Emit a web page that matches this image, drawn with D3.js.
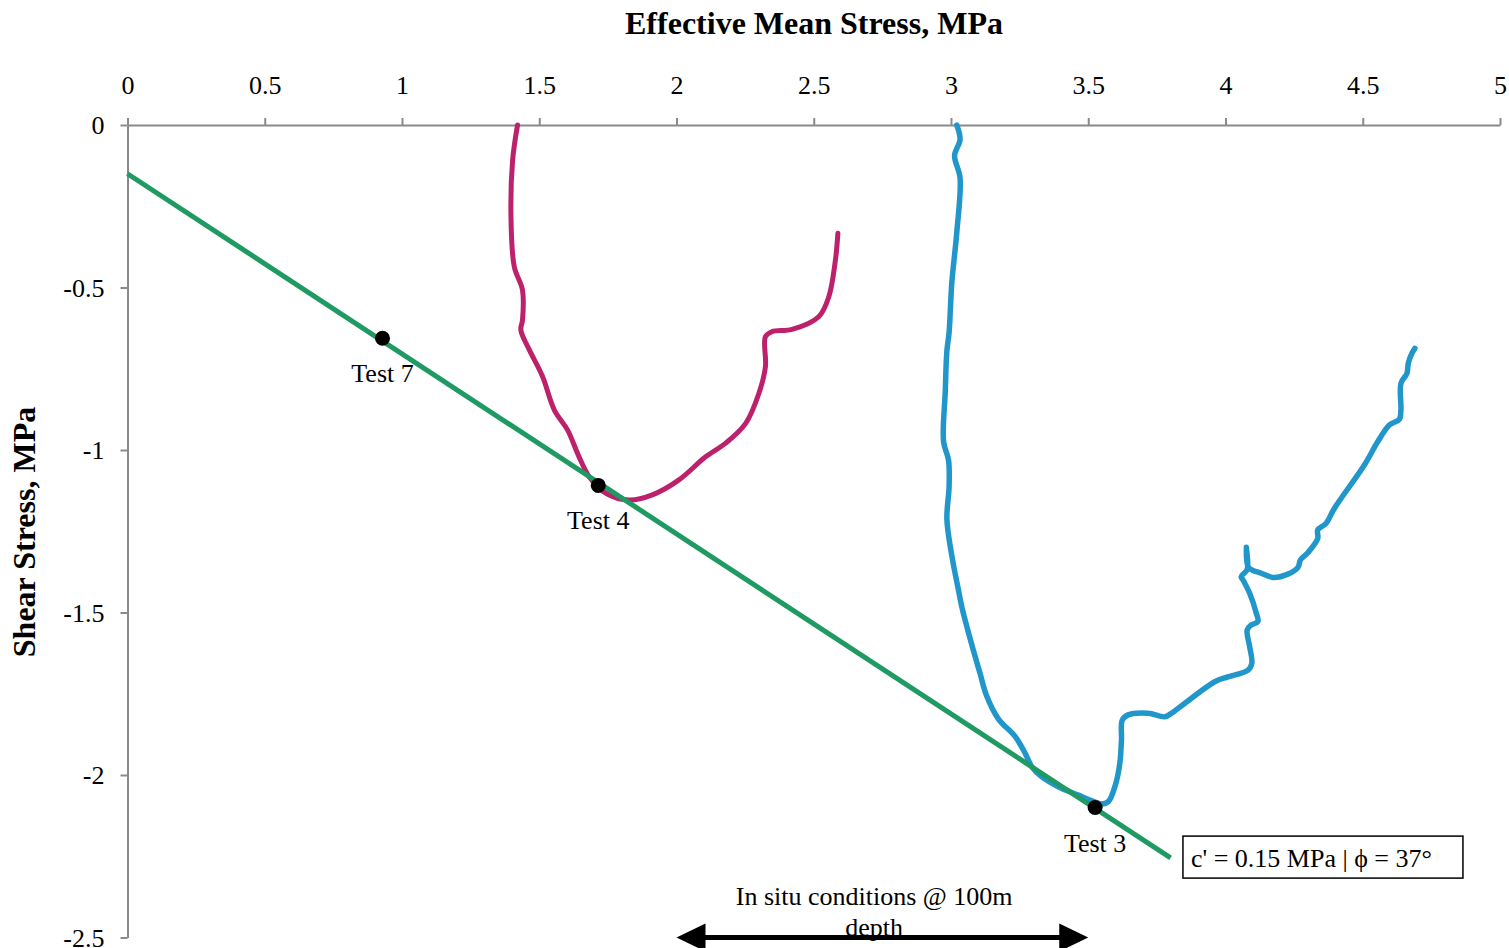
<!DOCTYPE html>
<html>
<head>
<meta charset="utf-8">
<script src="https://cdnjs.cloudflare.com/ajax/libs/d3/7.8.5/d3.min.js"></script>
<style>
  html, body { margin: 0; padding: 0; background: #fff; }
  svg { display: block; }
  text { font-family: "Liberation Serif", "Times New Roman", serif; fill: #000; }
</style>
</head>
<body>
<svg id="chart" width="1509" height="948"></svg>
<script>
// Axis ticks
const xTicks = [0, 0.5, 1, 1.5, 2, 2.5, 3, 3.5, 4, 4.5, 5];
const yTicks = [0, -0.5, -1, -1.5, -2, -2.5];

// Stress path, Test 4 (p', q in MPa)
const test4P = [1.421, 1.403, 1.397, 1.409, 1.439, 1.439, 1.433, 1.464, 1.512, 1.555, 1.603, 1.645, 1.682, 1.743, 1.827, 1.912, 2.009, 2.106, 2.179, 2.252, 2.300, 2.324, 2.324, 2.348, 2.421, 2.518, 2.555, 2.579, 2.588];
const test4Q = [0, -0.108, -0.282, -0.436, -0.508, -0.600, -0.631, -0.692, -0.774, -0.877, -0.938, -1.021, -1.082, -1.133, -1.154, -1.138, -1.092, -1.021, -0.979, -0.918, -0.826, -0.744, -0.651, -0.636, -0.629, -0.590, -0.528, -0.415, -0.333];

// Stress path, Test 3 (p', q in MPa)
const test3P = [3.021, 3.033, 3.013, 3.033, 3.021, 3.003, 2.993, 2.985, 2.979, 2.973, 2.991, 2.993, 2.985, 3.003, 3.025, 3.042, 3.082, 3.106, 3.130, 3.173, 3.234, 3.270, 3.294, 3.330, 3.391, 3.464, 3.506, 3.548, 3.573, 3.597, 3.615, 3.621, 3.624, 3.645, 3.718, 3.779, 3.803, 3.852, 3.961, 4.009, 4.082, 4.096, 4.088, 4.079, 4.094, 4.118, 4.112, 4.088, 4.064, 4.057, 4.079, 4.076, 4.084, 4.130, 4.173, 4.227, 4.264, 4.273, 4.300, 4.336, 4.336, 4.366, 4.397, 4.506, 4.555, 4.597, 4.633, 4.639, 4.639, 4.661, 4.666, 4.676, 4.690];
const test3Q = [0, -0.045, -0.094, -0.163, -0.331, -0.485, -0.639, -0.695, -0.822, -0.975, -1.031, -1.114, -1.212, -1.325, -1.422, -1.492, -1.618, -1.688, -1.757, -1.828, -1.882, -1.933, -1.974, -2.005, -2.036, -2.062, -2.077, -2.089, -2.082, -2.036, -1.964, -1.892, -1.831, -1.815, -1.810, -1.821, -1.810, -1.779, -1.713, -1.698, -1.677, -1.656, -1.605, -1.554, -1.538, -1.528, -1.502, -1.441, -1.400, -1.390, -1.367, -1.299, -1.361, -1.379, -1.392, -1.382, -1.361, -1.338, -1.316, -1.272, -1.246, -1.226, -1.179, -1.046, -0.974, -0.923, -0.906, -0.877, -0.795, -0.764, -0.733, -0.708, -0.687];

// Failure envelope: intercept and slope, drawn from p' = 0 to 3.8
const envIntercept = -0.15;
const envSlope = -0.554;
const envP = [0, 3.8];

// Failure points on the envelope
const failNames = ["Test 7", "Test 4", "Test 3"];
const failP = [0.929, 1.715, 3.525];
const failQ = [-0.656, -1.109, -2.100];

// In situ range of mean stress at 100 m depth
const insituP = [2.0, 3.5];
const insituQ = -2.5;

const svg = d3.select("#chart");
const x = d3.scaleLinear().domain([0, 5]).range([127.5, 1500]);
const y = d3.scaleLinear().domain([0, -2.5]).range([125, 937.5]);

const axisColor = "#8a8a8a";
const fmt = d => String(d);

// x axis along the top
const gx = svg.append("g").attr("transform", `translate(0,${y(0)})`)
  .call(d3.axisTop(x).tickValues(xTicks).tickSize(7).tickSizeOuter(0).tickFormat(fmt));
gx.select(".domain").attr("stroke", axisColor).attr("stroke-width", 2);
gx.selectAll(".tick line").attr("stroke", axisColor).attr("stroke-width", 2);
gx.selectAll(".tick text").attr("font-size", 26).attr("font-family", "Liberation Serif")
  .attr("y", -31).attr("dy", 0);

// y axis on the left
const gy = svg.append("g").attr("transform", `translate(${x(0)},0)`)
  .call(d3.axisLeft(y).tickValues(yTicks).tickSize(7).tickSizeOuter(0).tickFormat(fmt));
gy.select(".domain").attr("stroke", axisColor).attr("stroke-width", 2);
gy.selectAll(".tick line").attr("stroke", axisColor).attr("stroke-width", 2);
gy.selectAll(".tick text").attr("font-size", 26).attr("font-family", "Liberation Serif")
  .attr("x", -23).attr("dy", "0.33em");

// Axis titles
svg.append("text").attr("x", 814).attr("y", 34).attr("text-anchor", "middle")
  .attr("font-size", 32).attr("font-weight", "bold").text("Effective Mean Stress, MPa");
svg.append("text").attr("transform", `translate(35,${532}) rotate(-90)`).attr("text-anchor", "middle")
  .attr("font-size", 32).attr("font-weight", "bold").text("Shear Stress, MPa");

// Stress paths
const line = d3.line().x(d => x(d[0])).y(d => y(d[1])).curve(d3.curveCatmullRom.alpha(0.5));
const path4 = test4P.map((p, i) => [p, test4Q[i]]);
const path3 = test3P.map((p, i) => [p, test3Q[i]]);

svg.append("path").datum(path4).attr("d", line)
  .attr("fill", "none").attr("stroke", "#BD216B").attr("stroke-width", 5)
  .attr("stroke-linejoin", "round").attr("stroke-linecap", "round");
svg.append("path").datum(path3).attr("d", line)
  .attr("fill", "none").attr("stroke", "#2196CB").attr("stroke-width", 5.5)
  .attr("stroke-linejoin", "round").attr("stroke-linecap", "round");

// Failure envelope
const envLine = d3.line().x(d => x(d)).y(d => y(envIntercept + envSlope * d));
svg.append("path").datum(envP).attr("d", envLine)
  .attr("fill", "none").attr("stroke", "#1E9A62").attr("stroke-width", 5);

// Failure points and labels
const fails = failNames.map((n, i) => ({ name: n, p: failP[i], q: failQ[i] }));
svg.selectAll("circle.fail").data(fails).join("circle").attr("class", "fail")
  .attr("cx", d => x(d.p)).attr("cy", d => y(d.q)).attr("r", 7.5).attr("fill", "#000");
svg.selectAll("text.fail").data(fails).join("text").attr("class", "fail")
  .attr("x", d => x(d.p)).attr("y", d => y(d.q) + 44).attr("text-anchor", "middle")
  .attr("font-size", 26).text(d => d.name);

// Strength parameters box
const boxX = x(3.845), boxY = y(-2.188);
svg.append("rect").attr("x", boxX).attr("y", boxY).attr("width", 280).attr("height", 42)
  .attr("fill", "#fff").attr("stroke", "#000").attr("stroke-width", 1.5);
svg.append("text").attr("x", boxX + 8).attr("y", boxY + 31).attr("font-size", 26)
  .text("c' = 0.15 MPa | \u03d5 = 37\u00b0");

// In situ conditions arrow
const ay = y(insituQ);
const ax0 = x(insituP[0]), ax1 = x(insituP[1]);
svg.append("line").attr("x1", ax0 + 20).attr("x2", ax1 - 20).attr("y1", ay).attr("y2", ay)
  .attr("stroke", "#000").attr("stroke-width", 5);
svg.append("path").attr("fill", "#000")
  .attr("d", `M${ax0},${ay} L${ax0 + 29},${ay - 14} L${ax0 + 29},${ay + 14} Z`);
svg.append("path").attr("fill", "#000")
  .attr("d", `M${ax1},${ay} L${ax1 - 29},${ay - 14} L${ax1 - 29},${ay + 14} Z`);
const insituText = svg.append("text").attr("x", x(2.72)).attr("text-anchor", "middle").attr("font-size", 26);
insituText.append("tspan").attr("x", x(2.72)).attr("y", 905).text("In situ conditions @ 100m");
insituText.append("tspan").attr("x", x(2.72)).attr("y", 936).text("depth");
</script>
</body>
</html>
